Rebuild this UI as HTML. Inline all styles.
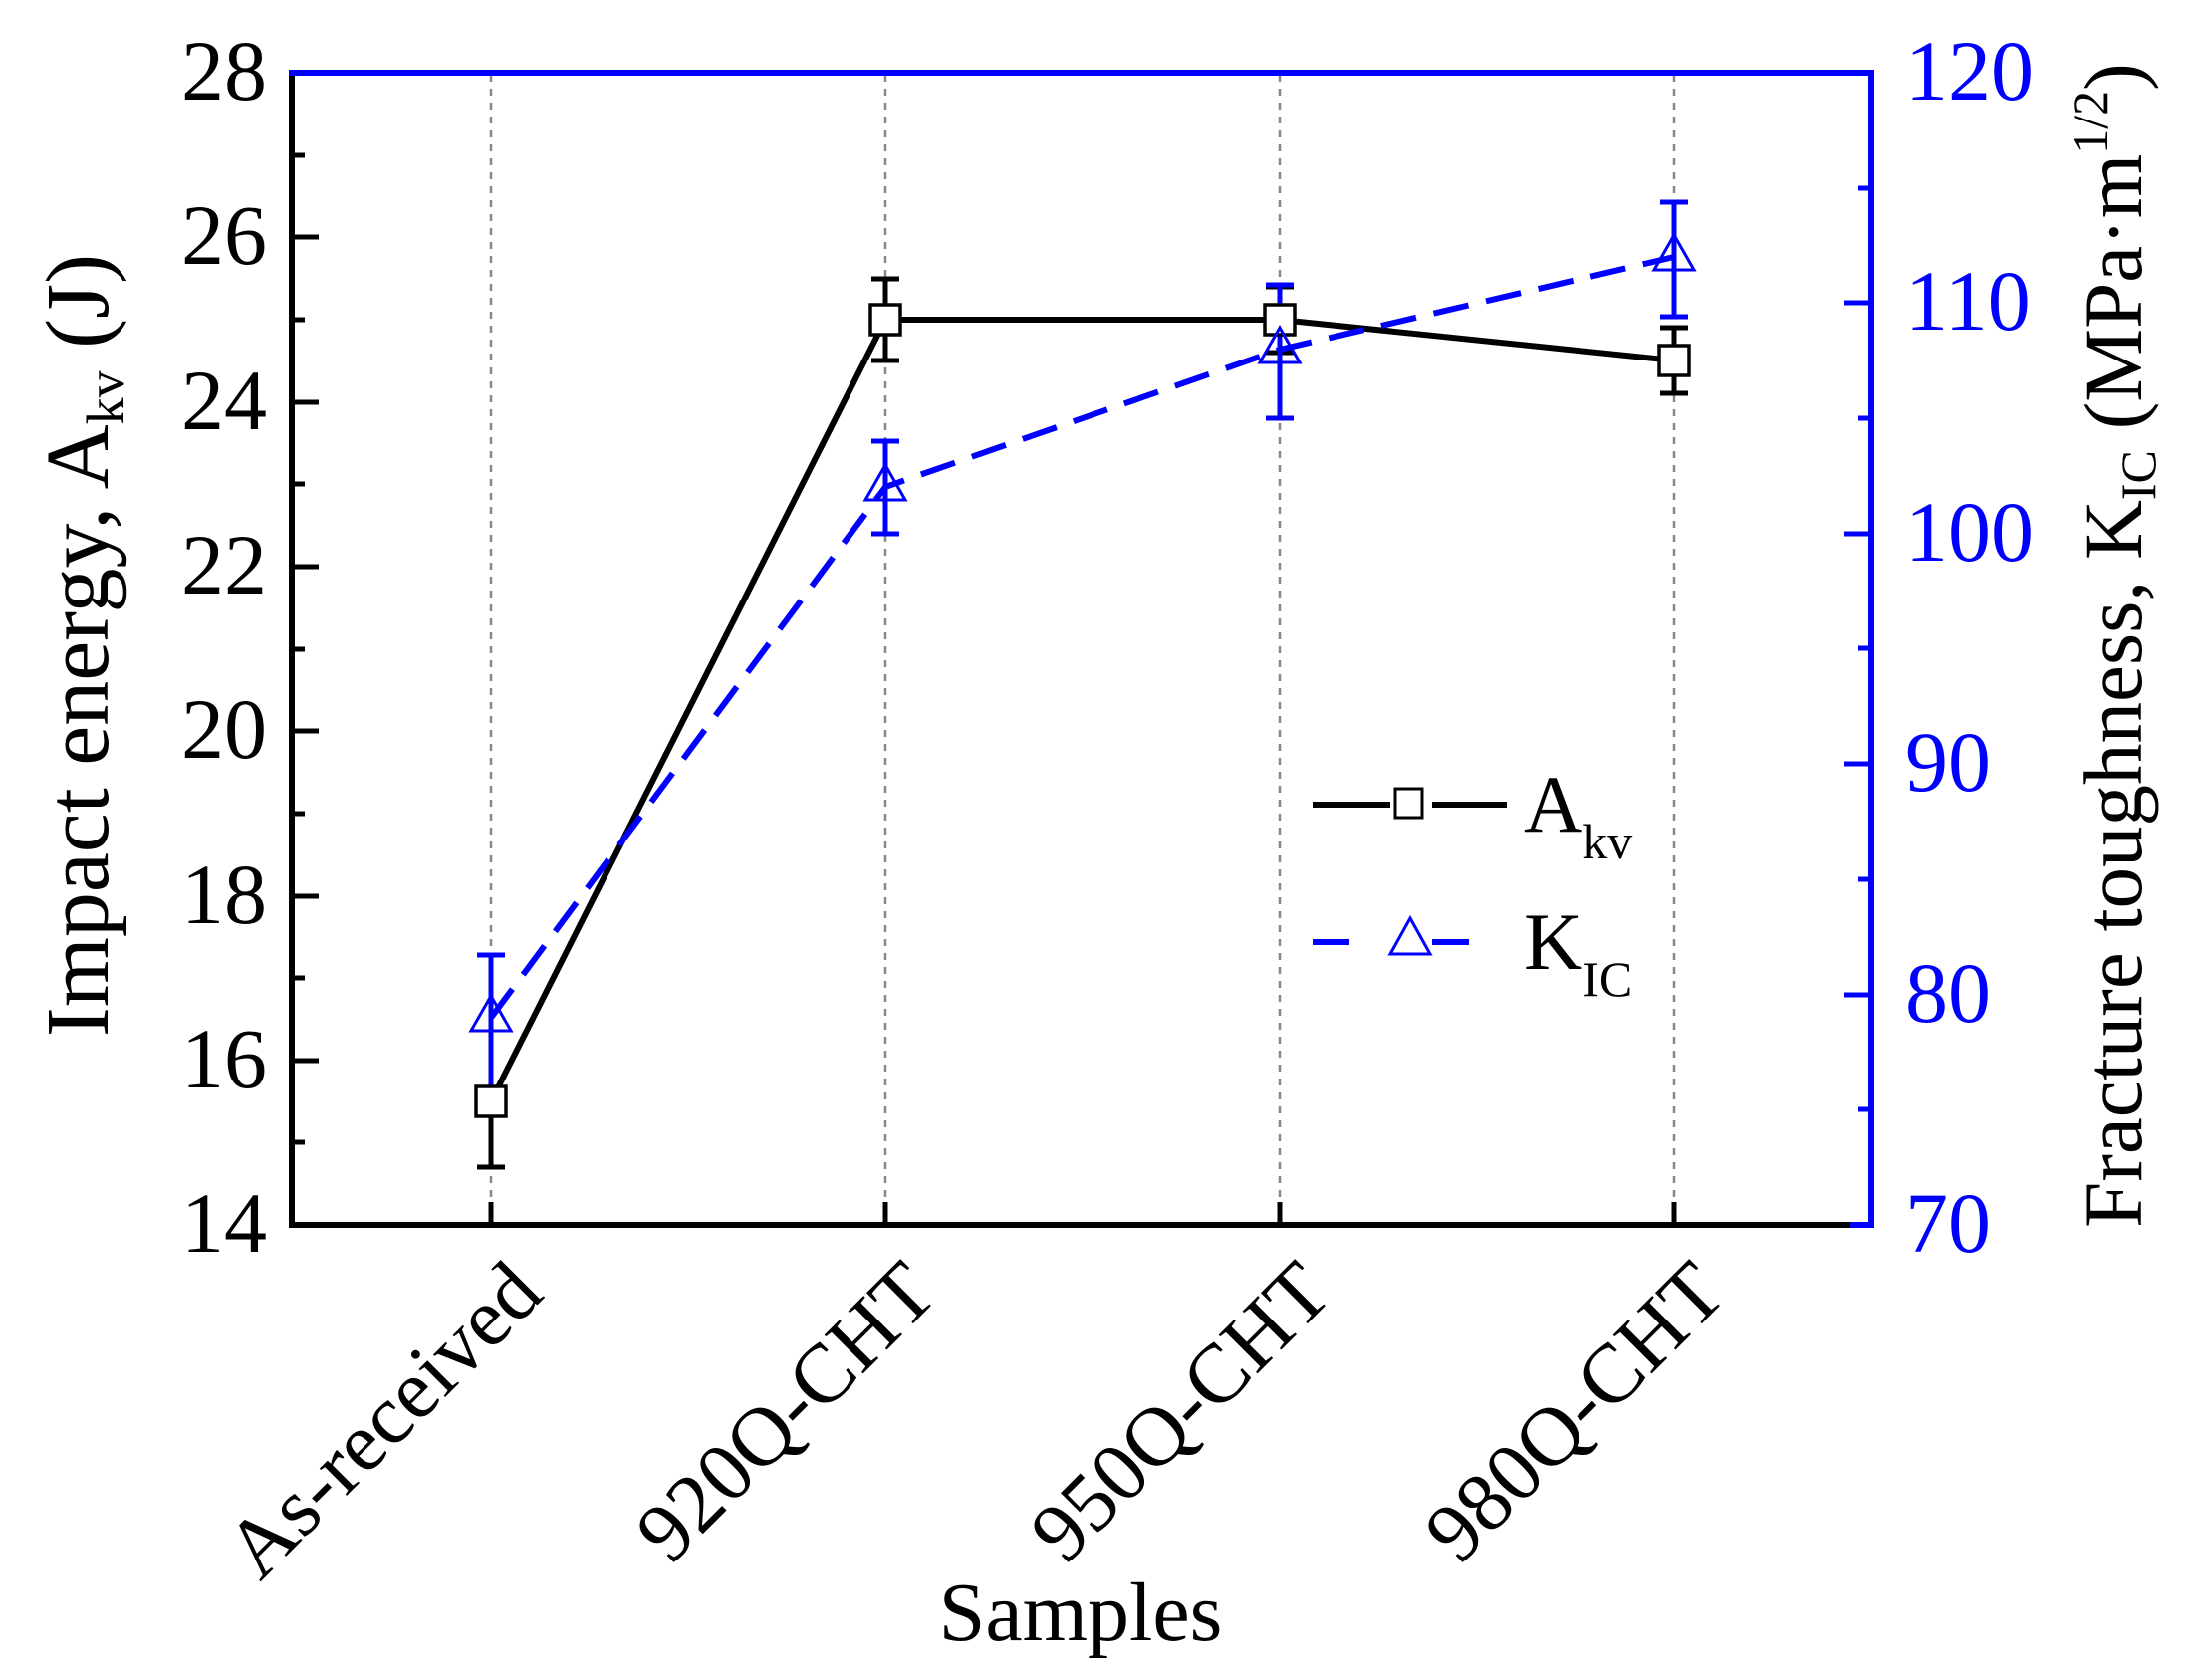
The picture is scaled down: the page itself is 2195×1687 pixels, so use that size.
<!DOCTYPE html>
<html><head><meta charset="utf-8"><style>
html,body{margin:0;padding:0;background:#fff;}
svg{display:block;}
text{font-family:"Liberation Serif",serif;}
</style></head><body>
<svg width="2195" height="1687" viewBox="0 0 2195 1687" xmlns="http://www.w3.org/2000/svg">
<rect width="2195" height="1687" fill="#fff"/>
<g stroke="#888" stroke-width="2.5" stroke-dasharray="7,7">
<line x1="493" y1="75" x2="493" y2="1230"/>
<line x1="889" y1="75" x2="889" y2="1230"/>
<line x1="1285" y1="75" x2="1285" y2="1230"/>
<line x1="1681" y1="75" x2="1681" y2="1230"/>
</g>
<line x1="293" y1="73" x2="293" y2="1233" stroke="#000" stroke-width="6"/>
<line x1="290" y1="1230" x2="1860" y2="1230" stroke="#000" stroke-width="6"/>
<line x1="1858" y1="1230" x2="1882" y2="1230" stroke="#00f" stroke-width="6"/>
<line x1="290" y1="73" x2="1882" y2="73" stroke="#00f" stroke-width="6"/>
<line x1="1879" y1="70" x2="1879" y2="1233" stroke="#00f" stroke-width="6"/>
<g stroke="#000" stroke-width="5">
<line x1="293" y1="238" x2="320" y2="238"/><line x1="293" y1="404" x2="320" y2="404"/>
<line x1="293" y1="569" x2="320" y2="569"/><line x1="293" y1="734" x2="320" y2="734"/>
<line x1="293" y1="900" x2="320" y2="900"/><line x1="293" y1="1065" x2="320" y2="1065"/>
<line x1="293" y1="156" x2="306" y2="156"/><line x1="293" y1="321" x2="306" y2="321"/>
<line x1="293" y1="486" x2="306" y2="486"/><line x1="293" y1="652" x2="306" y2="652"/>
<line x1="293" y1="817" x2="306" y2="817"/><line x1="293" y1="982" x2="306" y2="982"/>
<line x1="293" y1="1147" x2="306" y2="1147"/>
<line x1="493" y1="1230" x2="493" y2="1207"/><line x1="889" y1="1230" x2="889" y2="1207"/>
<line x1="1285" y1="1230" x2="1285" y2="1207"/><line x1="1681" y1="1230" x2="1681" y2="1207"/>
</g>
<g stroke="#00f" stroke-width="5">
<line x1="1879" y1="304" x2="1852" y2="304"/><line x1="1879" y1="536" x2="1852" y2="536"/>
<line x1="1879" y1="767" x2="1852" y2="767"/><line x1="1879" y1="999" x2="1852" y2="999"/>
<line x1="1879" y1="189" x2="1866" y2="189"/><line x1="1879" y1="420" x2="1866" y2="420"/>
<line x1="1879" y1="651" x2="1866" y2="651"/><line x1="1879" y1="883" x2="1866" y2="883"/>
<line x1="1879" y1="1114" x2="1866" y2="1114"/>
</g>
<g font-size="86" text-anchor="end" fill="#000">
<text x="268" y="100">28</text><text x="268" y="265">26</text><text x="268" y="431">24</text>
<text x="268" y="596">22</text><text x="268" y="761">20</text><text x="268" y="927">18</text>
<text x="268" y="1092">16</text><text x="268" y="1257">14</text>
</g>
<g font-size="86" fill="#00f">
<text x="1913" y="100">120</text><text x="1913" y="331">110</text><text x="1913" y="563">100</text>
<text x="1913" y="794">90</text><text x="1913" y="1026">80</text><text x="1913" y="1257">70</text>
</g>
<g font-size="84" text-anchor="end" fill="#000">
<text transform="translate(548,1302) rotate(-45)">As-received</text>
<text transform="translate(944,1302) rotate(-45)">920Q-CHT</text>
<text transform="translate(1340,1302) rotate(-45)">950Q-CHT</text>
<text transform="translate(1736,1302) rotate(-45)">980Q-CHT</text>
</g>
<text x="1085" y="1647" font-size="84" text-anchor="middle">Samples</text>
<text transform="translate(108,648) rotate(-90)" font-size="90" text-anchor="middle">Impact energy, A<tspan font-size="54" dy="16">kv</tspan><tspan dy="-16"> (J)</tspan></text>
<text transform="translate(2150,648) rotate(-90)" font-size="83" text-anchor="middle">Fracture toughness, K<tspan font-size="50" dy="14">IC</tspan><tspan dy="-14"> (MPa·m</tspan><tspan font-size="50" dy="-34">1/2</tspan><tspan dy="34">)</tspan></text>
<g stroke="#000" stroke-width="5">
<line x1="493" y1="1040" x2="493" y2="1172"/><line x1="479" y1="1172" x2="507" y2="1172"/>
<line x1="889" y1="280" x2="889" y2="362"/><line x1="875" y1="280" x2="903" y2="280"/><line x1="875" y1="362" x2="903" y2="362"/>
<line x1="1285" y1="288" x2="1285" y2="354"/><line x1="1271" y1="288" x2="1299" y2="288"/><line x1="1271" y1="354" x2="1299" y2="354"/>
<line x1="1681" y1="329" x2="1681" y2="395"/><line x1="1667" y1="329" x2="1695" y2="329"/><line x1="1667" y1="395" x2="1695" y2="395"/>
</g>
<polyline points="493,1106 889,321 1285,321 1681,362" fill="none" stroke="#000" stroke-width="6"/>
<g stroke="#00f" stroke-width="5">
<line x1="493" y1="959" x2="493" y2="1103"/><line x1="479" y1="959" x2="507" y2="959"/><line x1="479" y1="1103" x2="507" y2="1103"/>
<line x1="889" y1="443" x2="889" y2="536"/><line x1="875" y1="443" x2="903" y2="443"/><line x1="875" y1="536" x2="903" y2="536"/>
<line x1="1285" y1="286" x2="1285" y2="420"/><line x1="1271" y1="286" x2="1299" y2="286"/><line x1="1271" y1="420" x2="1299" y2="420"/>
<line x1="1681" y1="203" x2="1681" y2="318"/><line x1="1667" y1="203" x2="1695" y2="203"/><line x1="1667" y1="318" x2="1695" y2="318"/>
</g>
<polyline points="493,1022 889,489 1285,351 1681,258" fill="none" stroke="#00f" stroke-width="6" stroke-dasharray="36,18"/>
<g fill="#fff" stroke="#000" stroke-width="3.5">
<rect x="478" y="1091" width="30" height="30"/>
<rect x="874" y="306" width="30" height="30"/>
<rect x="1270" y="306" width="30" height="30"/>
<rect x="1666" y="347" width="30" height="30"/>
</g>
<g fill="none" stroke="#00f" stroke-width="3">
<polygon points="493,1000 513,1035 473,1035"/>
<polygon points="889,467 909,502 869,502"/>
<polygon points="1285,329 1305,364 1265,364"/>
<polygon points="1681,236 1701,271 1661,271"/>
</g>
<line x1="1318" y1="808" x2="1396" y2="808" stroke="#000" stroke-width="6"/>
<line x1="1438" y1="808" x2="1513" y2="808" stroke="#000" stroke-width="6"/>
<rect x="1401" y="792" width="27" height="29" fill="#fff" stroke="#000" stroke-width="3"/>
<text x="1530" y="835" font-size="82">A<tspan font-size="50" dy="27">kv</tspan></text>
<line x1="1318" y1="946" x2="1355" y2="946" stroke="#00f" stroke-width="6"/>
<line x1="1438" y1="946" x2="1475" y2="946" stroke="#00f" stroke-width="6"/>
<polygon points="1416,922 1436,958 1396,958" fill="none" stroke="#00f" stroke-width="3"/>
<text x="1530" y="973" font-size="82">K<tspan font-size="50" dy="27">IC</tspan></text>
</svg>
</body></html>
